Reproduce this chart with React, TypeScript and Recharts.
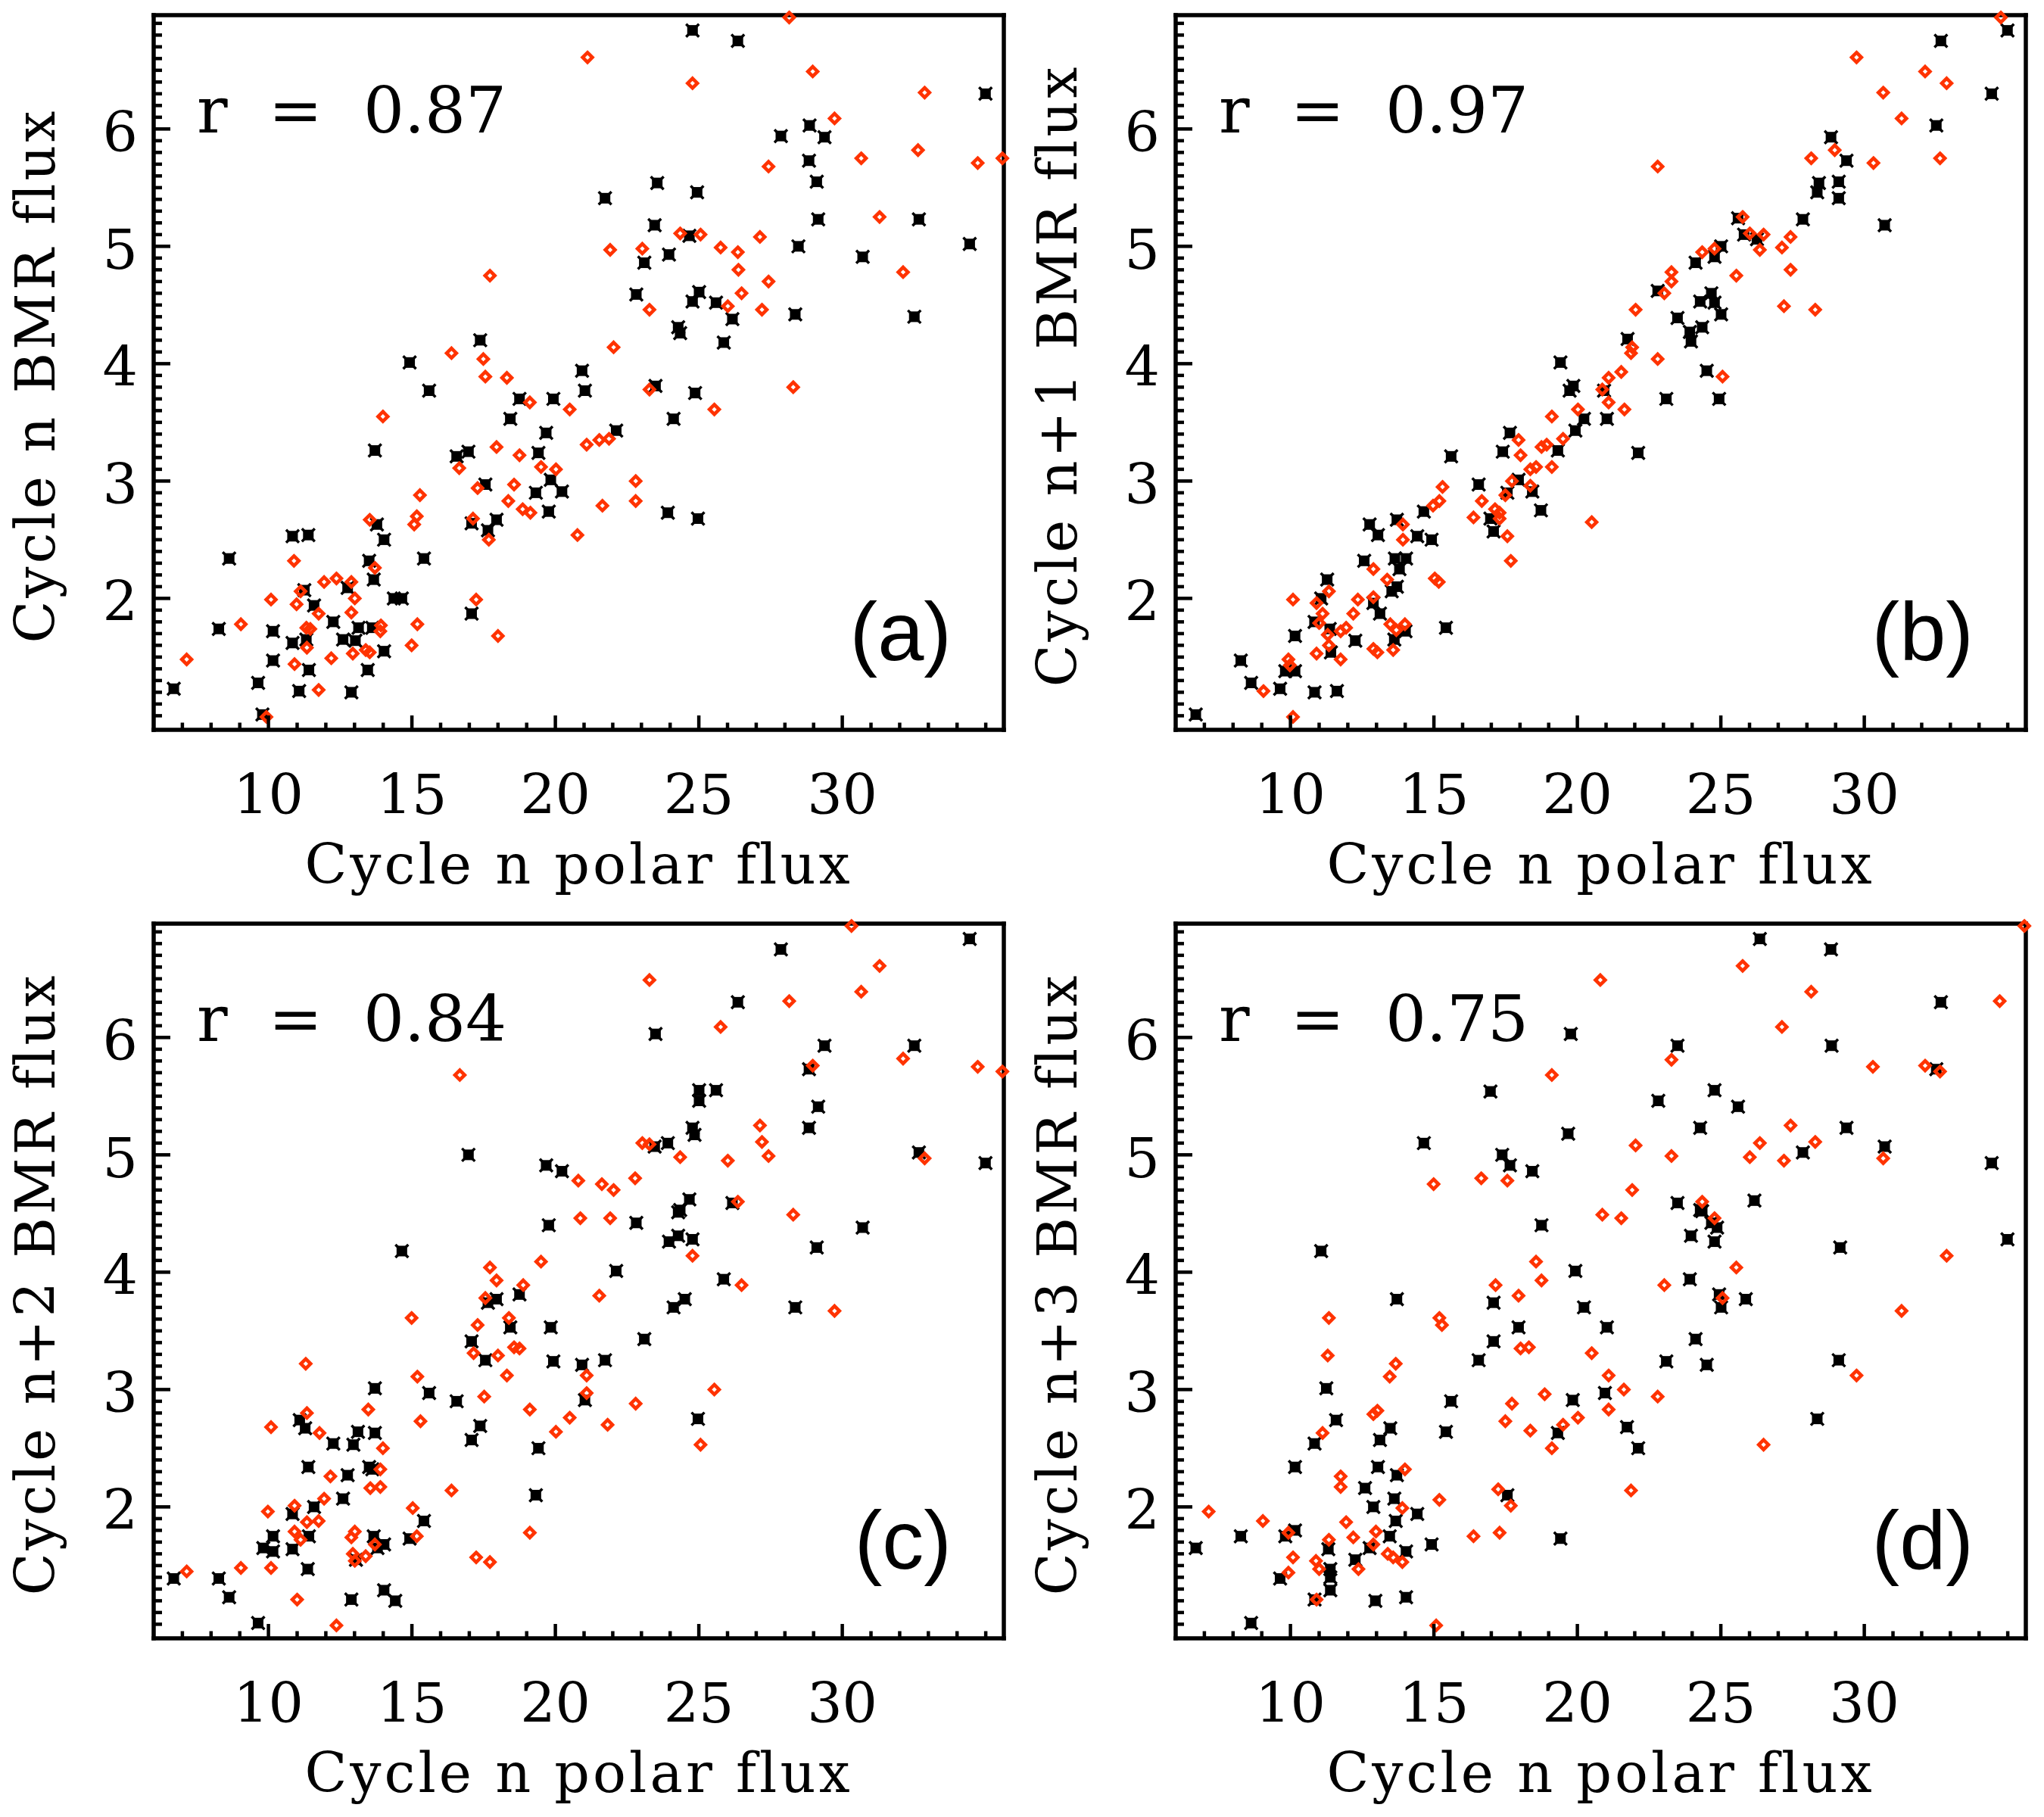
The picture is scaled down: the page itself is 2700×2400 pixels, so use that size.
import React from 'react';
import { ScatterChart, Scatter, XAxis, YAxis } from 'recharts';

// Axis ranges and tick labels shared by all four panels
const X_DOMAIN: [number, number] = [6.0, 35.63];
const Y_DOMAIN: [number, number] = [0.88, 6.97];
const X_LABELS = [10, 15, 20, 25, 30];
const Y_LABELS = [2, 3, 4, 5, 6];
// minor ticks: every 1 unit on x, every 0.1 on y
const X_TICKS: number[] = [];
for (let k = 7; k <= 35; k++) X_TICKS.push(k);
const Y_TICKS: number[] = [];
for (let k = 10; k <= 69; k++) Y_TICKS.push(k / 10);

const X_TITLE = 'Cycle n polar flux';
const Y_TITLES = ['Cycle n BMR flux', 'Cycle n+1 BMR flux', 'Cycle n+2 BMR flux', 'Cycle n+3 BMR flux'];
const R_VALUES = ['0.87', '0.97', '0.84', '0.75'];
const PANEL_TAGS = ['(a)', '(b)', '(c)', '(d)'];

// [polar flux, BMR flux] pairs, black = set 1, red = set 2
const blackA = [[24.78,6.84],[26.36,6.75],[34.99,6.30],[27.86,5.94],[28.86,6.03],[29.38,5.93],[28.84,5.73],[29.11,5.55],[23.55,5.54],[24.94,5.46],[21.73,5.41],[23.46,5.18],[29.16,5.23],[32.67,5.23],[24.67,5.09],[34.44,5.02],[28.47,5.00],[30.71,4.91],[23.96,4.93],[23.10,4.86],[25.01,4.61],[22.82,4.59],[24.78,4.53],[25.60,4.52],[26.17,4.38],[28.36,4.42],[32.51,4.40],[24.28,4.31],[24.35,4.26],[25.87,4.18],[17.38,4.20],[14.92,4.01],[15.60,3.77],[20.93,3.94],[21.03,3.77],[23.49,3.81],[18.75,3.70],[19.93,3.70],[18.43,3.53],[24.12,3.53],[24.87,3.75],[22.12,3.43],[19.68,3.41],[13.71,3.26],[16.56,3.21],[16.97,3.25],[19.41,3.24],[17.56,2.97],[19.84,3.01],[19.32,2.90],[20.23,2.91],[19.77,2.74],[23.92,2.73],[24.97,2.68],[17.95,2.67],[17.08,2.64],[17.65,2.58],[13.78,2.63],[14.03,2.50],[11.39,2.54],[10.84,2.53],[8.63,2.34],[13.51,2.32],[15.42,2.34],[13.67,2.16],[14.37,2.00],[14.65,2.00],[12.76,2.09],[11.25,2.07],[11.59,1.94],[8.27,1.74],[10.16,1.72],[12.26,1.80],[13.14,1.75],[12.60,1.65],[13.03,1.64],[13.62,1.75],[10.84,1.62],[11.32,1.65],[14.03,1.55],[17.08,1.87],[10.16,1.47],[13.46,1.39],[11.41,1.39],[9.64,1.28],[6.70,1.23],[11.07,1.21],[12.89,1.20],[9.79,1.01]];
const redA = [[28.15,6.95],[21.12,6.61],[28.97,6.49],[24.78,6.39],[32.87,6.31],[29.73,6.09],[30.66,5.75],[32.64,5.82],[27.43,5.68],[34.72,5.71],[35.58,5.75],[31.30,5.25],[24.35,5.11],[25.06,5.10],[27.13,5.08],[21.91,4.97],[23.03,4.98],[25.76,4.99],[26.36,4.95],[26.38,4.80],[27.43,4.70],[32.12,4.78],[26.49,4.60],[26.01,4.49],[23.28,4.46],[27.20,4.46],[17.72,4.75],[22.03,4.14],[16.38,4.09],[17.49,4.04],[17.56,3.89],[18.31,3.88],[23.28,3.78],[28.29,3.80],[19.11,3.67],[20.50,3.61],[25.54,3.61],[13.99,3.55],[21.09,3.31],[21.53,3.35],[21.87,3.36],[17.95,3.29],[18.75,3.22],[19.50,3.12],[20.02,3.10],[16.65,3.11],[17.29,2.94],[18.56,2.97],[18.36,2.83],[18.86,2.76],[19.13,2.73],[21.64,2.79],[22.80,3.00],[22.80,2.83],[20.77,2.54],[15.28,2.88],[15.17,2.70],[15.08,2.63],[13.53,2.67],[17.13,2.68],[17.68,2.50],[13.71,2.26],[10.89,2.32],[11.94,2.14],[12.37,2.17],[12.89,2.14],[11.12,2.06],[10.09,1.99],[13.01,2.00],[10.98,1.95],[12.89,1.88],[11.75,1.87],[17.24,1.99],[9.04,1.78],[13.92,1.77],[15.19,1.78],[11.32,1.75],[11.46,1.74],[13.90,1.72],[11.34,1.58],[14.99,1.60],[13.39,1.56],[13.53,1.54],[12.94,1.53],[18.00,1.68],[7.15,1.48],[10.91,1.44],[12.19,1.49],[11.75,1.22],[9.93,0.99]];

const blackB = [[34.99,6.84],[32.67,6.75],[34.44,6.30],[32.51,6.03],[28.84,5.93],[29.38,5.73],[29.11,5.55],[28.42,5.54],[28.36,5.46],[29.11,5.41],[30.71,5.18],[27.86,5.23],[25.60,5.24],[25.81,5.10],[26.26,5.06],[25.01,5.00],[24.78,4.91],[24.12,4.86],[22.80,4.62],[24.67,4.60],[24.28,4.53],[24.78,4.52],[25.01,4.42],[23.49,4.39],[24.35,4.31],[23.92,4.27],[23.96,4.19],[21.75,4.21],[24.51,3.94],[23.10,3.70],[24.94,3.70],[19.41,4.01],[19.73,3.77],[19.86,3.81],[20.93,3.77],[20.23,3.53],[21.03,3.53],[19.93,3.43],[22.12,3.24],[17.65,3.41],[17.40,3.25],[19.32,3.26],[15.60,3.21],[16.56,2.97],[17.95,3.01],[18.43,2.91],[18.73,2.75],[16.97,2.68],[17.08,2.57],[17.56,2.90],[14.65,2.74],[13.71,2.67],[12.76,2.63],[13.05,2.54],[14.42,2.53],[14.92,2.50],[12.57,2.32],[13.64,2.34],[14.03,2.34],[13.80,2.25],[11.28,2.16],[13.71,2.10],[11.07,2.00],[12.89,1.96],[13.53,2.06],[13.12,1.87],[10.84,1.80],[11.37,1.74],[15.42,1.75],[14.01,1.72],[10.16,1.68],[12.26,1.64],[13.62,1.65],[11.41,1.54],[8.27,1.47],[9.82,1.38],[10.16,1.38],[8.63,1.28],[9.64,1.23],[10.84,1.20],[11.62,1.21],[6.70,1.01]];
const redB = [[34.76,6.95],[29.73,6.61],[32.12,6.49],[32.87,6.39],[30.66,6.31],[31.30,6.09],[22.80,5.68],[28.15,5.75],[28.97,5.82],[30.32,5.71],[32.64,5.75],[25.76,5.25],[26.01,5.11],[26.49,5.10],[27.43,5.08],[27.13,4.99],[26.36,4.97],[24.35,4.95],[24.78,4.98],[27.43,4.80],[23.28,4.78],[23.28,4.70],[25.54,4.75],[23.03,4.60],[22.03,4.46],[27.20,4.49],[28.29,4.46],[21.91,4.14],[21.87,4.09],[22.80,4.04],[21.53,3.93],[21.09,3.88],[20.87,3.78],[21.09,3.67],[21.64,3.61],[25.06,3.89],[20.02,3.61],[19.11,3.55],[19.50,3.36],[17.95,3.35],[18.02,3.22],[18.75,3.29],[18.93,3.31],[18.56,3.12],[19.11,3.12],[18.36,3.10],[17.72,3.00],[18.36,2.96],[17.49,2.88],[16.67,2.83],[16.38,2.69],[17.29,2.73],[17.13,2.76],[17.29,2.68],[20.50,2.65],[15.30,2.95],[15.19,2.83],[14.97,2.79],[17.56,2.53],[17.68,2.32],[13.92,2.63],[13.92,2.50],[12.89,2.25],[13.37,2.16],[15.03,2.17],[15.17,2.14],[12.89,2.01],[10.09,1.99],[12.35,1.99],[11.34,2.06],[10.91,1.96],[11.12,1.87],[12.19,1.87],[11.00,1.79],[13.48,1.78],[13.99,1.78],[11.94,1.75],[11.75,1.72],[11.30,1.69],[13.69,1.73],[11.34,1.60],[12.89,1.57],[13.03,1.54],[13.58,1.56],[10.91,1.53],[9.93,1.48],[9.98,1.43],[11.75,1.48],[9.06,1.21],[10.09,0.99]];

const blackC = [[34.44,6.84],[27.86,6.75],[26.36,6.30],[23.49,6.03],[29.38,5.93],[32.51,5.93],[28.84,5.73],[25.01,5.55],[25.60,5.55],[25.01,5.46],[29.16,5.41],[24.78,5.23],[28.84,5.23],[24.85,5.17],[23.92,5.10],[23.46,5.07],[32.67,5.02],[16.97,5.00],[34.99,4.93],[19.68,4.91],[20.23,4.86],[24.67,4.62],[26.17,4.59],[24.35,4.53],[24.28,4.51],[22.82,4.42],[19.77,4.40],[30.71,4.38],[24.28,4.31],[23.96,4.26],[24.78,4.28],[29.11,4.21],[14.65,4.18],[22.12,4.01],[25.87,3.94],[24.12,3.70],[24.51,3.77],[28.36,3.70],[17.95,3.77],[17.65,3.74],[18.75,3.81],[18.43,3.53],[19.84,3.53],[23.10,3.43],[17.08,3.41],[17.56,3.25],[19.93,3.24],[21.73,3.25],[20.93,3.21],[13.71,3.01],[15.60,2.97],[16.56,2.90],[21.03,2.91],[24.97,2.75],[17.38,2.69],[17.08,2.57],[19.41,2.50],[11.09,2.74],[11.28,2.67],[13.12,2.64],[13.71,2.63],[12.26,2.54],[12.96,2.53],[12.76,2.27],[11.39,2.34],[13.51,2.34],[13.62,2.32],[12.60,2.07],[11.59,2.00],[19.32,2.10],[15.42,1.88],[10.84,1.94],[10.16,1.75],[11.41,1.75],[13.67,1.75],[14.92,1.73],[14.03,1.68],[9.82,1.65],[10.16,1.62],[10.84,1.64],[13.80,1.65],[13.05,1.55],[11.37,1.47],[6.70,1.39],[8.27,1.39],[8.63,1.23],[14.03,1.29],[12.89,1.21],[14.42,1.20],[9.64,1.01]];
const redC = [[30.32,6.95],[31.30,6.61],[23.28,6.49],[30.66,6.39],[28.15,6.31],[25.76,6.09],[16.67,5.68],[28.97,5.76],[32.12,5.82],[34.72,5.75],[35.58,5.71],[27.13,5.25],[23.03,5.10],[23.28,5.09],[27.20,5.11],[27.43,4.99],[24.35,4.98],[26.01,4.95],[32.87,4.97],[20.80,4.78],[21.62,4.75],[22.03,4.70],[22.78,4.80],[20.87,4.46],[21.91,4.46],[26.36,4.60],[28.29,4.49],[24.78,4.14],[19.50,4.09],[17.72,4.04],[17.95,3.93],[18.88,3.89],[26.49,3.89],[17.56,3.78],[21.53,3.80],[29.73,3.67],[14.99,3.61],[18.38,3.61],[17.29,3.55],[17.15,3.31],[18.00,3.29],[18.56,3.36],[18.75,3.35],[11.30,3.22],[15.19,3.11],[18.31,3.12],[21.09,3.12],[21.09,2.97],[25.54,3.00],[17.52,2.94],[22.80,2.88],[19.11,2.83],[20.50,2.76],[11.34,2.80],[13.48,2.83],[15.30,2.73],[21.82,2.70],[20.02,2.64],[10.09,2.68],[11.78,2.63],[25.06,2.53],[13.99,2.50],[13.90,2.32],[12.16,2.26],[13.55,2.16],[13.90,2.17],[16.38,2.14],[11.94,2.07],[10.91,2.01],[15.03,1.99],[9.98,1.96],[11.34,1.87],[11.75,1.88],[10.91,1.79],[13.01,1.79],[15.17,1.75],[11.12,1.72],[12.89,1.74],[19.11,1.78],[13.71,1.68],[12.94,1.60],[13.39,1.58],[13.01,1.54],[17.24,1.57],[17.72,1.53],[7.15,1.45],[9.04,1.48],[10.09,1.48],[11.00,1.21],[12.37,0.99]];

const blackD = [[26.36,6.84],[28.84,6.75],[32.67,6.30],[19.77,6.03],[23.49,5.93],[28.86,5.93],[32.51,5.73],[16.97,5.54],[24.78,5.55],[22.82,5.46],[25.60,5.41],[24.28,5.23],[29.38,5.23],[19.68,5.18],[14.65,5.10],[30.71,5.07],[27.86,5.02],[17.38,5.00],[17.65,4.91],[34.44,4.93],[18.43,4.86],[23.49,4.59],[26.17,4.61],[24.28,4.53],[24.35,4.52],[24.67,4.42],[24.87,4.38],[18.75,4.40],[23.96,4.31],[24.78,4.26],[34.99,4.28],[29.16,4.21],[11.07,4.18],[19.93,4.01],[23.92,3.94],[13.71,3.77],[25.87,3.77],[20.23,3.70],[25.01,3.70],[24.94,3.81],[17.08,3.74],[17.95,3.53],[21.03,3.53],[17.08,3.41],[24.12,3.43],[16.56,3.25],[23.10,3.24],[29.11,3.25],[24.51,3.21],[11.25,3.01],[20.96,2.97],[15.60,2.90],[19.84,2.91],[11.59,2.74],[28.36,2.75],[13.48,2.67],[21.73,2.68],[15.42,2.64],[19.32,2.63],[10.84,2.54],[13.12,2.57],[22.12,2.50],[10.16,2.34],[13.05,2.34],[13.71,2.27],[12.60,2.16],[13.62,2.07],[12.89,2.00],[17.56,2.10],[14.42,1.94],[13.67,1.88],[10.16,1.80],[9.82,1.75],[8.27,1.75],[13.46,1.75],[19.41,1.73],[6.70,1.65],[14.92,1.68],[12.76,1.65],[11.32,1.64],[14.03,1.62],[12.26,1.55],[11.39,1.47],[11.39,1.40],[9.64,1.39],[11.39,1.29],[10.84,1.21],[12.96,1.20],[14.03,1.23],[8.63,1.01]];
const redD = [[35.58,6.95],[25.76,6.61],[20.80,6.49],[28.15,6.39],[34.72,6.31],[27.13,6.09],[23.28,5.81],[30.30,5.75],[32.12,5.76],[32.64,5.71],[19.11,5.68],[27.43,5.25],[28.29,5.11],[26.36,5.10],[22.03,5.08],[23.28,4.99],[26.01,4.98],[30.66,4.97],[27.20,4.95],[16.65,4.80],[17.56,4.78],[14.99,4.75],[21.91,4.70],[20.87,4.49],[21.53,4.46],[24.35,4.60],[24.78,4.46],[32.87,4.14],[18.56,4.09],[25.54,4.04],[18.75,3.93],[17.15,3.89],[23.03,3.89],[17.95,3.80],[25.06,3.78],[31.30,3.67],[11.34,3.61],[15.19,3.61],[15.28,3.55],[18.02,3.35],[18.31,3.36],[20.50,3.31],[11.30,3.29],[13.67,3.22],[13.46,3.11],[21.09,3.12],[29.73,3.12],[21.62,3.00],[18.86,2.96],[22.80,2.94],[17.72,2.88],[12.89,2.79],[13.03,2.82],[21.09,2.83],[20.02,2.76],[17.49,2.73],[19.50,2.70],[18.36,2.65],[11.12,2.63],[19.11,2.50],[26.49,2.53],[13.99,2.32],[11.75,2.26],[11.75,2.17],[17.24,2.15],[21.87,2.14],[15.19,2.06],[17.68,2.01],[13.90,1.99],[7.15,1.96],[9.04,1.88],[11.94,1.87],[9.93,1.78],[12.98,1.79],[17.29,1.78],[16.38,1.75],[12.19,1.74],[11.34,1.72],[12.89,1.68],[10.09,1.57],[13.39,1.60],[13.58,1.57],[13.90,1.53],[10.89,1.54],[11.00,1.47],[12.37,1.47],[9.93,1.44],[10.91,1.21],[15.08,0.99]];

const PANEL_BLACK = [blackA, blackB, blackC, blackD];
const PANEL_RED = [redA, redB, redC, redD];

const RED = '#ff3300';
const SERIF = '"DejaVu Serif", serif';
const SANS = '"Liberation Sans", Arial, sans-serif';

const W = 1350;
const H = 1200;
const PLOT_LEFT = 203;
const PLOT_RIGHT_GAP = 24;
const PLOT_TOP = 20;
const PLOT_BOTTOM_GAP = 236;

const toPoints = (pairs: number[][]) => pairs.map(([x, y]) => ({ x, y }));

const tickText = { fontFamily: SERIF, fontSize: 73, fill: '#000' };

function BottomTick(props: any) {
  const { x, y, payload } = props;
  const major = X_LABELS.includes(payload.value);
  return (
    <g>
      <line x1={x} y1={y} x2={x} y2={y - (major ? 19 : 9.5)} stroke="#000" strokeWidth={4.5} />
      {major && (
        <text x={x} y={y + 111} textAnchor="middle" {...tickText}>
          {payload.value}
        </text>
      )}
    </g>
  );
}

function TopTick(props: any) {
  const { x, y, payload } = props;
  const major = X_LABELS.includes(payload.value);
  return <line x1={x} y1={y} x2={x} y2={y + (major ? 19 : 9.5)} stroke="#000" strokeWidth={4.5} />;
}

function LeftTick(props: any) {
  const { x, y, payload } = props;
  const major = Y_LABELS.includes(payload.value);
  return (
    <g>
      <line x1={x} y1={y} x2={x + (major ? 22 : 11)} y2={y} stroke="#000" strokeWidth={4.5} />
      {major && (
        <text x={x - 21} y={y + 30} textAnchor="end" {...tickText}>
          {payload.value}
        </text>
      )}
    </g>
  );
}

function RightTick(props: any) {
  const { x, y, payload } = props;
  const major = Y_LABELS.includes(payload.value);
  return <line x1={x} y1={y} x2={x - (major ? 22 : 11)} y2={y} stroke="#000" strokeWidth={4.5} />;
}

function BlackMark(props: any) {
  const { cx, cy } = props;
  if (cx == null || cy == null) return <g />;
  const d = 8.5;
  return (
    <g>
      <rect x={cx - 7} y={cy - 7} width={14} height={14} fill="#000" />
      <path
        d={`M${cx - d},${cy - d}L${cx + d},${cy + d}M${cx - d},${cy + d}L${cx + d},${cy - d}`}
        stroke="#000"
        strokeWidth={3.5}
      />
    </g>
  );
}

function RedMark(props: any) {
  const { cx, cy } = props;
  if (cx == null || cy == null) return <g />;
  const h = 6.4;
  return (
    <path
      d={`M${cx},${cy - h}L${cx + h},${cy}L${cx},${cy + h}L${cx - h},${cy}Z`}
      fill="none"
      stroke={RED}
      strokeWidth={4.6}
    />
  );
}

const axisLineStyle = { stroke: '#000', strokeWidth: 5.5, strokeLinecap: 'square' as const };

function Panel({ index }: { index: number }) {
  const plotCenterX = PLOT_LEFT + (W - PLOT_LEFT - PLOT_RIGHT_GAP) / 2;
  return (
    <div
      style={{
        position: 'absolute',
        left: (index % 2) * W,
        top: Math.floor(index / 2) * H,
        width: W,
        height: H,
      }}
    >
      <ScatterChart width={W} height={H} margin={{ top: 0, right: 0, bottom: 0, left: 0 }}>
        <XAxis
          xAxisId={0}
          dataKey="x"
          type="number"
          orientation="bottom"
          domain={X_DOMAIN}
          ticks={X_TICKS}
          interval={0}
          height={PLOT_BOTTOM_GAP}
          tickSize={0}
          tickMargin={0}
          tickLine={false}
          axisLine={axisLineStyle}
          tick={BottomTick}
        />
        <XAxis
          xAxisId="top"
          type="number"
          orientation="top"
          domain={X_DOMAIN}
          ticks={X_TICKS}
          interval={0}
          height={PLOT_TOP}
          tickSize={0}
          tickMargin={0}
          tickLine={false}
          axisLine={axisLineStyle}
          tick={TopTick}
        />
        <YAxis
          yAxisId={0}
          dataKey="y"
          type="number"
          orientation="left"
          domain={Y_DOMAIN}
          ticks={Y_TICKS}
          interval={0}
          width={PLOT_LEFT}
          tickSize={0}
          tickMargin={0}
          tickLine={false}
          axisLine={axisLineStyle}
          tick={LeftTick}
        />
        <YAxis
          yAxisId="right"
          type="number"
          orientation="right"
          domain={Y_DOMAIN}
          ticks={Y_TICKS}
          interval={0}
          width={PLOT_RIGHT_GAP}
          tickSize={0}
          tickMargin={0}
          tickLine={false}
          axisLine={axisLineStyle}
          tick={RightTick}
        />
        <Scatter
          xAxisId={0}
          yAxisId={0}
          data={toPoints(PANEL_BLACK[index])}
          shape={BlackMark}
          isAnimationActive={false}
        />
        <Scatter
          xAxisId={0}
          yAxisId={0}
          data={toPoints(PANEL_RED[index])}
          shape={RedMark}
          isAnimationActive={false}
        />
      </ScatterChart>
      <svg
        width={W}
        height={H}
        style={{ position: 'absolute', left: 0, top: 0, pointerEvents: 'none' }}
      >
        <text
          x={plotCenterX}
          y={1167}
          textAnchor="middle"
          fontFamily={SERIF}
          fontSize={73}
          letterSpacing={4}
          fill="#000"
        >
          {X_TITLE}
        </text>
        <text
          transform="translate(72,496) rotate(-90)"
          textAnchor="middle"
          fontFamily={SERIF}
          fontSize={73}
          letterSpacing={4}
          fill="#000"
        >
          {Y_TITLES[index]}
        </text>
        <text
          x={260}
          y={175}
          fontFamily={SERIF}
          fontSize={85}
          fill="#000"
          style={{ whiteSpace: 'pre' }}
        >
          {`r  =  ${R_VALUES[index]}`}
        </text>
        <text x={1257} y={872} textAnchor="end" fontFamily={SANS} fontSize={110} fill="#000">
          {PANEL_TAGS[index]}
        </text>
      </svg>
    </div>
  );
}

export default function App() {
  return (
    <div
      style={{
        position: 'absolute',
        left: 0,
        top: 0,
        width: 2 * W,
        height: 2 * H,
        background: '#fff',
        overflow: 'hidden',
      }}
    >
      {[0, 1, 2, 3].map((i) => (
        <Panel key={i} index={i} />
      ))}
    </div>
  );
}
